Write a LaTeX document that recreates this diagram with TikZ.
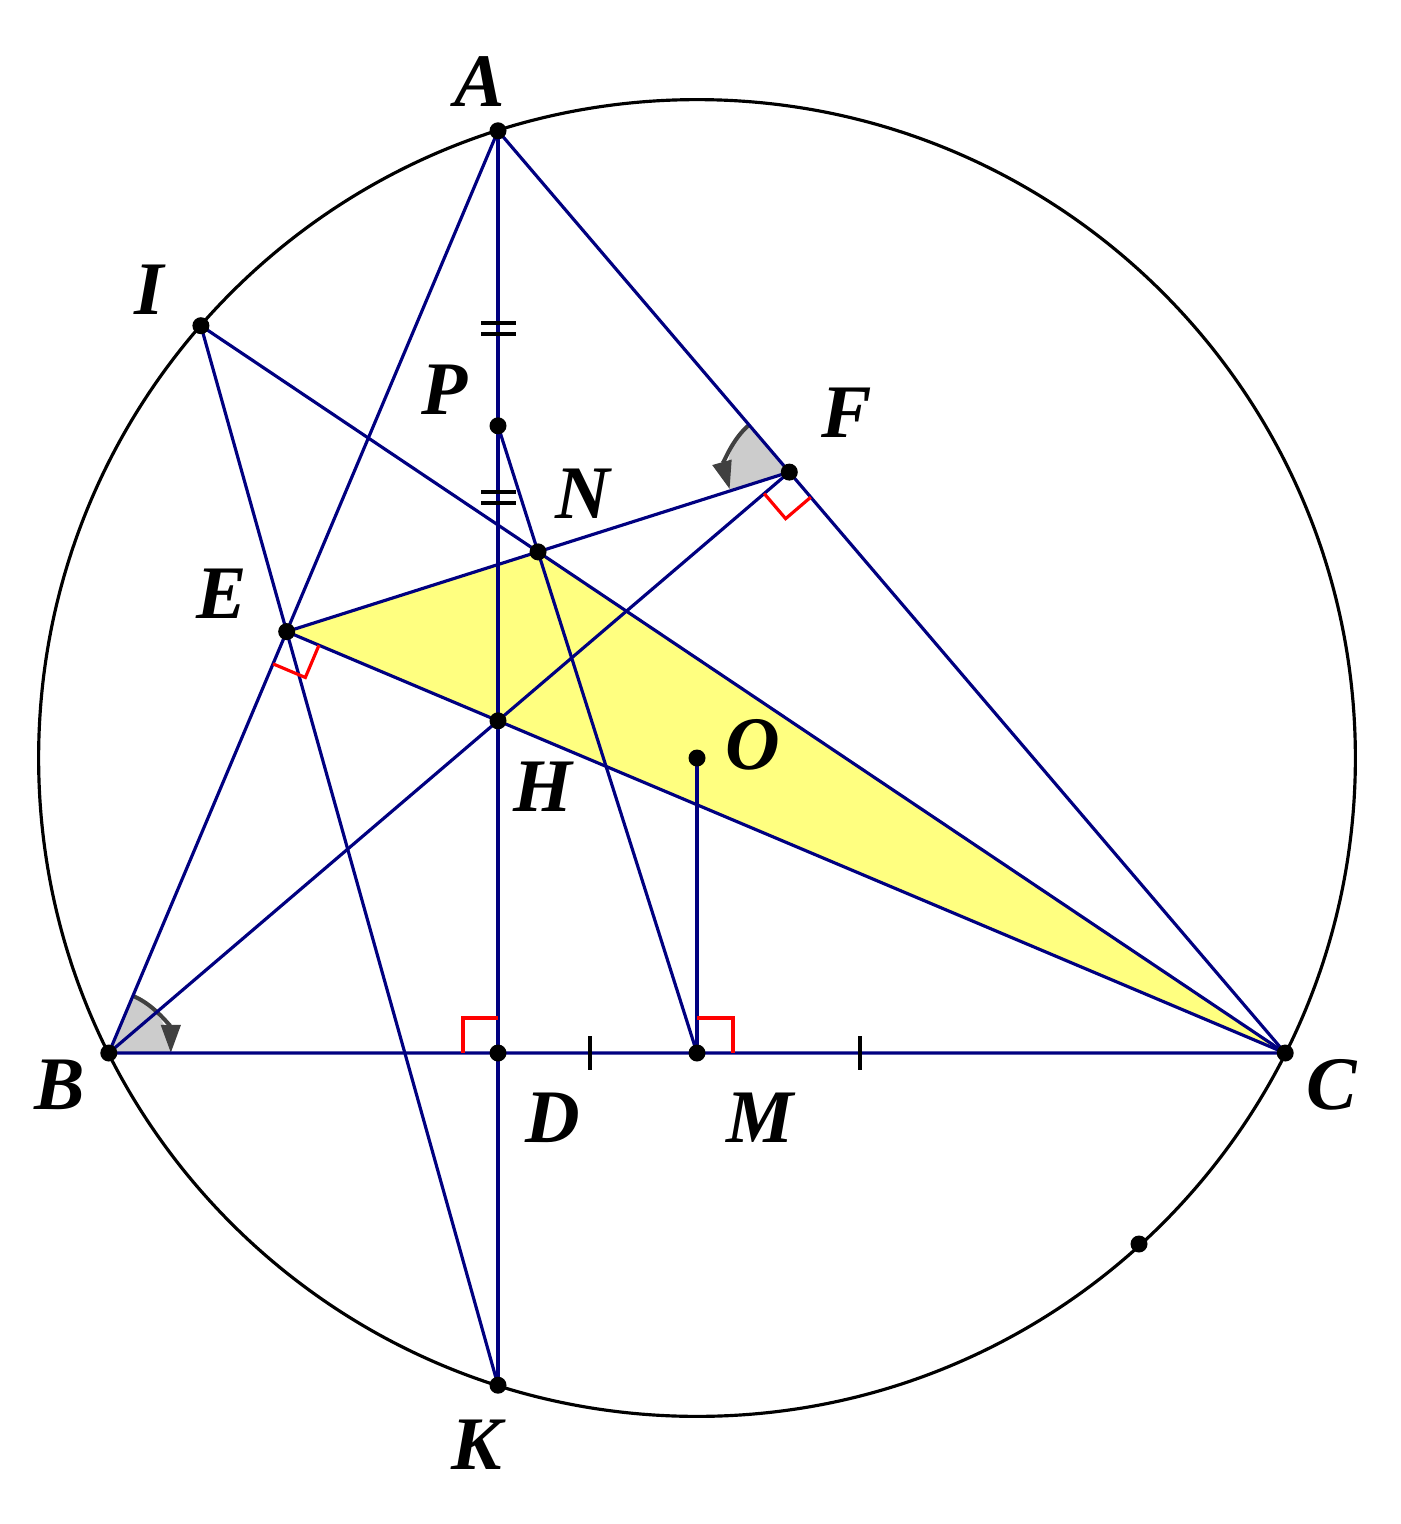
\documentclass[tikz,border=0pt]{standalone}
\usepackage{fontspec}
\setmainfont{Liberation Serif}
\usetikzlibrary{calc,arrows.meta}
\definecolor{ln}{RGB}{0,0,128}
\definecolor{yel}{RGB}{255,255,128}
\definecolor{sect}{RGB}{204,204,204}
\definecolor{arr}{RGB}{64,64,64}
\begin{document}
\begin{tikzpicture}[x=0.01cm,y=-0.01cm,
  seg/.style={draw=ln,line width=0.9pt},
  rmark/.style={draw=red,line width=0.9pt},
  tk/.style={draw=black,line width=1.05pt},
  dot/.style={circle,fill=black,inner sep=0pt,minimum size=0.17cm},
  lbl/.style={inner sep=0pt,font=\fontsize{21.5}{21.5}\selectfont\bfseries\itshape},
  angarrow/.style={draw=arr,line width=1.15pt,-{Triangle[length=0.28cm,width=0.19cm]}}]
\useasboundingbox (0,0) rectangle (1401,1524);
\coordinate (O) at (697,758);
\coordinate (A) at (498,130.8);
\coordinate (B) at (108.8,1053);
\coordinate (C) at (1285.2,1053);
\coordinate (D) at (498,1053);
\coordinate (M) at (697,1053);
\coordinate (H) at (498,720.8);
\coordinate (K) at (498,1385.2);
\coordinate (P) at (498,425.8);
\coordinate (E) at (286.7,631.6);
\coordinate (F) at (789.3,472.1);
\coordinate (I) at (200.9,325.7);
\coordinate (N) at (intersection of E--F and P--M);
\coordinate (Q) at (1139,1244);
% yellow triangle
\fill[yel] (E) -- (N) -- (C) -- cycle;
% angle sectors
\fill[sect] (B) -- ++(0:0.62cm) arc[start angle=0,end angle=67.15,radius=0.62cm] -- cycle;
\fill[sect] (F) -- ++(130.6:0.62cm) arc[start angle=130.6,end angle=197.6,radius=0.62cm] -- cycle;
\draw[angarrow] ($(B)+(67.15:0.62cm)$) arc[start angle=67.15,end angle=0,radius=0.62cm];
\draw[angarrow] ($(F)+(130.6:0.62cm)$) arc[start angle=130.6,end angle=196,radius=0.62cm];
% circle
\draw[black,line width=0.9pt] (O) circle[radius=6.58cm];
% lines
\draw[seg] (A) -- (B) -- (C) -- cycle;
\draw[seg] (A) -- (K);
\draw[seg] (B) -- (F);
\draw[seg] (C) -- (E);
\draw[seg] (E) -- (F);
\draw[seg] (I) -- (K);
\draw[seg] (I) -- (C);
\draw[seg] (P) -- (M);
\draw[seg] (O) -- (M);
% right angle marks
\draw[rmark] (463,1053) -- (463,1018) -- (498,1018);
\draw[rmark] (697,1018) -- (733,1018) -- (733,1053);
\coordinate (e1) at ($(E)!0.35cm!(B)$);
\coordinate (e2) at ($(E)!0.35cm!(C)$);
\draw[rmark] (e1) -- ($(e1)+(e2)-(E)$) -- (e2);
\coordinate (f1) at ($(F)!0.33cm!(B)$);
\coordinate (f2) at ($(F)!0.33cm!(C)$);
\draw[rmark] (f1) -- ($(f1)+(f2)-(F)$) -- (f2);
% ticks
\draw[tk] (590,1036) -- (590,1070);
\draw[tk] (860,1036) -- (860,1070);
\draw[tk] (481,323) -- (516,323);
\draw[tk] (481,334) -- (516,334);
\draw[tk] (481,492) -- (516,492);
\draw[tk] (481,503) -- (516,503);
% dots
\foreach \p in {A,B,C,D,M,H,K,P,E,F,I,N,O,Q}
  \node[dot] (d\p) at (\p) {};
% labels
\node[lbl] (lA) at (480,82) {A};
\node[lbl] (lI) at (149,290) {I};
\node[lbl] (lP) at (445,390) {P};
\node[lbl] (lF) at (847,413) {F};
\node[lbl] (lN) at (583,494) {N};
\node[lbl] (lE) at (222,594) {E};
\node[lbl] (lO) at (753,745) {O};
\node[lbl] (lH) at (543,787) {H};
\node[lbl] (lB) at (60,1085) {B};
\node[lbl] (lC) at (1332,1085) {C};
\node[lbl] (lD) at (553,1118) {D};
\node[lbl] (lM) at (760,1118) {M};
\node[lbl] (lK) at (477,1445) {K};
\end{tikzpicture}
\end{document}
